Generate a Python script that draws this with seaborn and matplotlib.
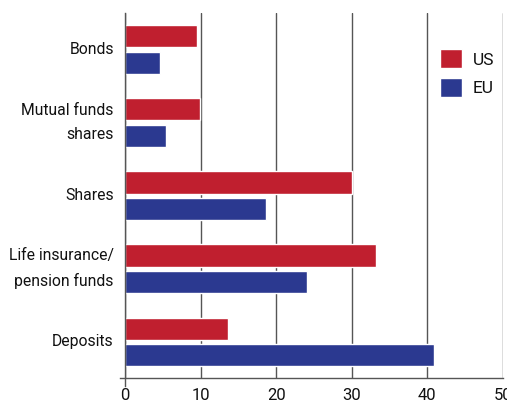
import matplotlib
matplotlib.use("Agg")
import matplotlib.pyplot as plt
import seaborn as sns
import pandas as pd
import numpy as np

categories = ["Bonds", "Mutual funds\nshares", "Shares", "Life insurance/\npension funds", "Deposits"]
us_values = [9.5, 9.9, 30.0, 33.2, 13.6]
eu_values = [4.6, 5.4, 18.7, 24.1, 40.9]
regions = ["US", "EU"]
colors = {"US": "#C01F2F", "EU": "#2B3990"}

df = pd.DataFrame({
    "category": categories * 2,
    "region": ["US"] * len(categories) + ["EU"] * len(categories),
    "value": us_values + eu_values,
})

sns.set_style("white")
plt.rcParams["font.family"] = ["Roboto", "DejaVu Sans"]

fig = plt.figure(figsize=(5.07, 4.05), dpi=100)
ax = fig.add_axes([0.2465, 0.066, 0.7455, 0.902])

sns.barplot(data=df, y="category", x="value", hue="region", order=categories,
            hue_order=regions, palette=colors, orient="h", width=0.72, gap=0.16,
            saturation=1, ax=ax, legend=True)

ax.set_xlim(0, 50)
ax.set_ylim(4.5, -0.5)
ax.set_xticks([0, 10, 20, 30, 40, 50])
ax.set_xlabel("")
ax.set_ylabel("")
ax.xaxis.grid(True, color="#555555", linewidth=1)
ax.set_axisbelow(True)

for side in ["top", "right"]:
    ax.spines[side].set_visible(False)
for side in ["left", "bottom"]:
    ax.spines[side].set_color("#555555")
    ax.spines[side].set_linewidth(1)
ax.spines["left"].set_bounds(4.6, -0.5)
ax.spines["bottom"].set_bounds(-0.7, 50)

ax.tick_params(axis="x", direction="out", length=6, color="#555555", width=1,
               labelsize=12, pad=1, labelcolor="#111111")
ax.tick_params(axis="y", which="major", length=0, pad=8)
ax.set_yticks(range(len(categories)))
ax.set_yticklabels(categories, fontsize=11.3, color="#111111", ha="right",
                   va="center", multialignment="right", linespacing=1.75)
ax.set_yticks(np.arange(-0.5, 5, 1), minor=True)
ax.tick_params(axis="y", which="minor", direction="out", length=6, color="#555555", width=1)

ax.legend(loc="upper left", bbox_to_anchor=(0.833, 0.90), frameon=False,
          borderpad=0, borderaxespad=0, labelcolor="#111111",
          fontsize=12.5, handlelength=1.3, handleheight=1.3, labelspacing=0.55,
          handletextpad=0.6)

fig.savefig("out.png", dpi=100)
